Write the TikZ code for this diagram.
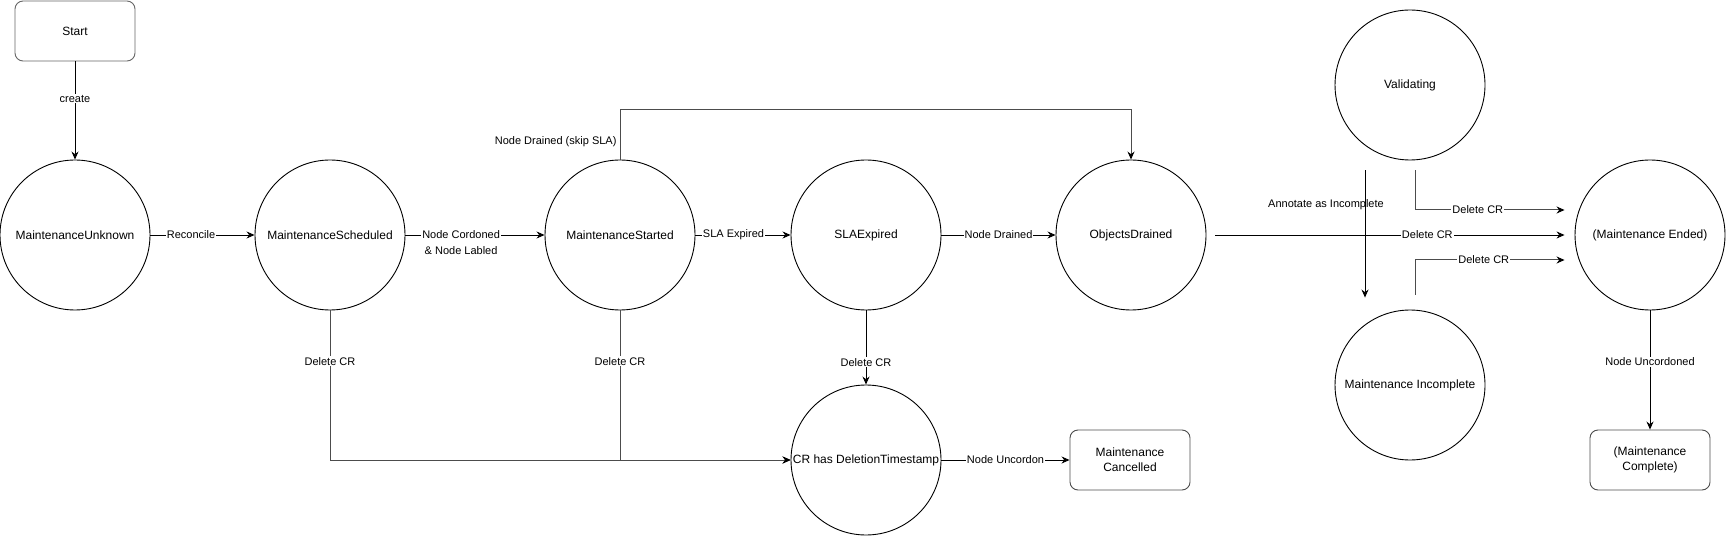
\documentclass[tikz,border=0pt]{standalone}
\usepackage{fontspec}
\setmainfont{Liberation Sans}
\usetikzlibrary{arrows.meta,calc}

\begin{document}
\begin{tikzpicture}[x=1pt,y=-1pt,
	state/.style={draw,circle,line width=0.9pt,minimum size=150pt,inner sep=0pt,font=\fontsize{12}{14}\selectfont},
	term/.style={draw=black!70,rounded corners=8pt,line width=0.9pt,minimum width=120pt,minimum height=60pt,align=center,font=\fontsize{12}{15}\selectfont},
	arr/.style={line width=0.9pt,-{Stealth[length=8pt,width=7pt]}},
	grayarr/.style={line width=1pt,draw=black!70,-{Stealth[length=8pt,width=7pt,color=black]}},
	lbl/.style={fill=white,inner sep=1pt,font=\fontsize{11}{16}\selectfont}]
	\useasboundingbox (0,0) rectangle (1726,537);

	\node[term,draw=black!60] (start) at (75,31) {Start};
	\node[state] (unknown) at (75,235) {MaintenanceUnknown};
	\node[state] (scheduled) at (330,235) {MaintenanceScheduled};
	\node[state] (started) at (620,235) {MaintenanceStarted};
	\node[state] (slaexp) at (866,235) {SLAExpired};
	\node[state] (drained) at (1131,235) {ObjectsDrained};
	\node[state] (validating) at (1410,85) {Validating};
	\node[state] (incomplete) at (1410,385) {Maintenance Incomplete};
	\node[state] (ended) at (1650,235) {(Maintenance Ended)};
	\node[term] (complete) at (1650,460) {(Maintenance\\Complete)};
	\node[state] (deleted) at (866,460) {CR has DeletionTimestamp};
	\node[term] (cancelled) at (1130,460) {Maintenance\\Cancelled};

	\draw[arr] (start) -- node[lbl,pos=0.38] {create} (unknown);
	\draw[arr] (unknown) -- node[lbl,pos=0.39] {Reconcile} (scheduled);
	\draw[arr] (scheduled) -- node[lbl,pos=0.4,align=center,yshift=-8pt] {Node Cordoned\\\& Node Labled} (started);
	\draw[arr] (started) -- node[lbl,pos=0.4] {SLA Expired} (slaexp);
	\draw[arr] (slaexp) -- node[lbl] {Node Drained} (drained);
	\draw[grayarr] (started.north) -- node[lbl,fill=none,inner sep=3pt,pos=0.36,anchor=east] {Node Drained (skip SLA)} ++(0,-50) -| (drained.north);

	\draw[grayarr] (scheduled) |- node[lbl,pos=0.17] {Delete CR} (deleted);
	\draw[grayarr] (started) |- node[lbl,pos=0.17] {Delete CR} (deleted);
	\draw[arr] (slaexp) -- node[lbl,pos=0.7] {Delete CR} (deleted);
	\draw[arr] (deleted) -- node[lbl] {Node Uncordon} (cancelled);

	\draw[arr,shorten <=9pt,shorten >=10pt] (drained) -- node[lbl,pos=0.6] {Delete CR} (ended);
	\draw[arr] ($(validating.south)+(-45,10)$) -- node[lbl,fill=none,pos=0.27,xshift=-39pt] {Annotate as Incomplete} ($(incomplete.north)+(-45,-12)$);
	\draw[grayarr] ($(validating.south)+(5,10)$) |- node[lbl,pos=0.71] {Delete CR} ($(ended.west)+(-10,-25)$);
	\draw[grayarr] ($(incomplete.north)+(5,-15)$) |- node[lbl,pos=0.73] {Delete CR} ($(ended.west)+(-10,25)$);
	\draw[arr] (ended) -- node[lbl,pos=0.43] {Node Uncordoned} (complete);
\end{tikzpicture}
\end{document}
